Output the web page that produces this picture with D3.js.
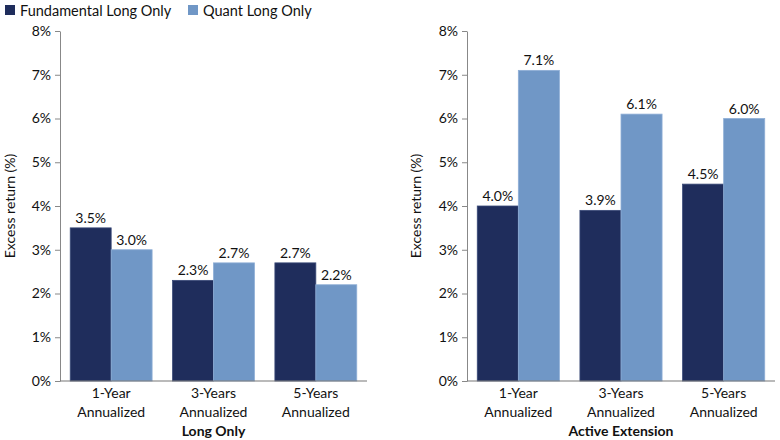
<!DOCTYPE html>
<html>
<head>
<meta charset="utf-8">
<script src="https://cdn.jsdelivr.net/npm/d3@7"></script>
<style>
  body { margin: 0; background: #fff; }
  text { font-family: Lato, "Open Sans", sans-serif; fill: #111; }
</style>
</head>
<body>
<svg id="chart" width="780" height="440"></svg>
<script>
// data
var categories = ["1-Year|Annualized", "3-Years|Annualized", "5-Years|Annualized"];
var seriesNames = ["Fundamental Long Only", "Quant Long Only"];
var longOnly = [[3.5, 3.0], [2.3, 2.7], [2.7, 2.2]];
var activeExtension = [[4.0, 7.1], [3.9, 6.1], [4.5, 6.0]];
var yTicks = [0, 1, 2, 3, 4, 5, 6, 7, 8];
var colors = ["#1f2d5c", "#7097c6"];

var svg = d3.select("#chart");

// legend
var legend = svg.append("g");
var legendX = [5, 188];
seriesNames.forEach(function(name, i) {
    legend.append("rect")
        .attr("x", legendX[i]).attr("y", 5)
        .attr("width", 10).attr("height", 10)
        .attr("fill", colors[i]);
    legend.append("text")
        .attr("x", legendX[i] + 15).attr("y", 15.5)
        .style("font-size", "14.5px")
        .text(name);
});

var y = d3.scaleLinear().domain([0, 8]).range([381, 31]);

function drawPanel(data, x0, x1, title, titleX) {
    var g = svg.append("g");

    var x = d3.scaleBand().domain(categories).range([x0, x1])
        .paddingInner(0.2).paddingOuter(0.1);
    var xs = d3.scaleBand().domain([0, 1]).range([0, x.bandwidth()]);

    // y axis
    var yAxis = g.append("g")
        .attr("transform", "translate(" + x0 + ",0)")
        .call(d3.axisLeft(y).tickValues(yTicks)
            .tickFormat(function(d) { return d + "%"; })
            .tickSize(5).tickSizeOuter(0));
    yAxis.select(".domain").attr("stroke", "#888");
    yAxis.selectAll(".tick line").attr("stroke", "#888");
    yAxis.selectAll(".tick text")
        .attr("x", -9)
        .style("font-size", "14px")
        .style("font-family", "Lato, sans-serif")
        .attr("fill", "#111");

    // axis title
    g.append("text")
        .attr("transform", "translate(" + titleX + ",206) rotate(-90)")
        .attr("text-anchor", "middle")
        .style("font-size", "14px")
        .text("Excess return (%)");

    // bars
    var groups = g.selectAll(".grp").data(data).enter().append("g")
        .attr("transform", function(d, i) { return "translate(" + x(categories[i]) + ",0)"; });

    groups.selectAll("rect").data(function(d) { return d; }).enter().append("rect")
        .attr("x", function(d, j) { return xs(j); })
        .attr("y", function(d) { return y(d); })
        .attr("width", xs.bandwidth())
        .attr("height", function(d) { return y(0) - y(d); })
        .attr("fill", function(d, j) { return colors[j]; })
        .attr("stroke", function(d, j) { return j ? "#8eaed6" : "#3a4a78"; })
        .attr("stroke-width", 0.8);

    groups.selectAll(".lbl").data(function(d) { return d; }).enter().append("text")
        .attr("x", function(d, j) { return xs(j) + xs.bandwidth() / 2; })
        .attr("y", function(d) { return y(d) - 5; })
        .attr("text-anchor", "middle")
        .style("font-size", "14px")
        .text(function(d) { return d.toFixed(1) + "%"; });

    // x baseline
    g.append("line")
        .attr("x1", x0).attr("x2", x1)
        .attr("y1", y(0)).attr("y2", y(0))
        .attr("stroke", "#777").attr("stroke-width", 1.2);

    // category labels
    categories.forEach(function(c) {
        var parts = c.split("|");
        var cx = x(c) + x.bandwidth() / 2;
        parts.forEach(function(p, k) {
            g.append("text")
                .attr("x", cx).attr("y", 398 + k * 19)
                .attr("text-anchor", "middle")
                .style("font-size", "14px")
                .text(p);
        });
    });

    g.append("text")
        .attr("x", (x0 + x1) / 2).attr("y", 436)
        .attr("text-anchor", "middle")
        .style("font-size", "14px")
        .style("font-weight", "bold")
        .text(title);
}

drawPanel(longOnly, 60, 367, "Long Only", 15);
drawPanel(activeExtension, 467, 775, "Active Extension", 421);
</script>
</body>
</html>
